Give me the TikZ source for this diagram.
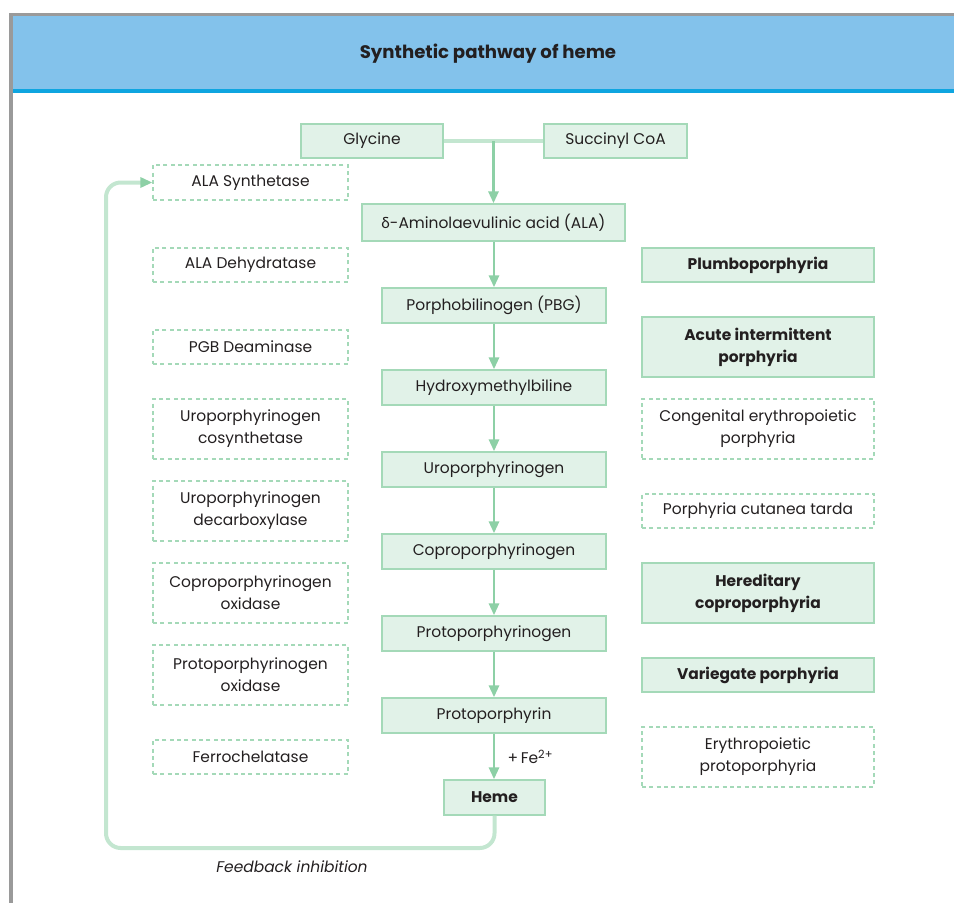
\documentclass[tikz,border=0pt]{standalone}
\usepackage{fontspec}
\setmainfont{Poppins}
\newfontfamily\grk{Lato}
\usetikzlibrary{arrows.meta,calc}
\definecolor{hdr}{HTML}{83C2EB}
\definecolor{hdrline}{HTML}{0EA5E0}
\definecolor{frame}{HTML}{9A9A9A}
\definecolor{bfill}{HTML}{E1F2E8}
\definecolor{bdraw}{HTML}{A4D9B8}
\definecolor{arrc}{HTML}{8DD0A6}
\definecolor{fbc}{HTML}{C3E6D0}
\definecolor{txt}{HTML}{231F20}
\tikzset{
  every node/.style={text=txt, font=\fontsize{11.6pt}{16.5pt}\selectfont},
  solidbox/.style={draw=bdraw, fill=bfill, line width=1pt, align=center, inner sep=2pt},
  dashbox/.style={draw=bdraw, line width=0.9pt, dash pattern=on 3pt off 2.5pt, align=center, inner sep=2pt},
  boldbox/.style={solidbox, font=\fontsize{11.6pt}{16.5pt}\selectfont\bfseries},
  arr/.style={draw=arrc, line width=2.2pt, -{Triangle[width=7.5pt,length=9pt]}},
  joinline/.style={draw=fbc, line width=3pt},
  fb/.style={draw=fbc, line width=3pt, rounded corners=11pt, -{Triangle[width=7.5pt,length=9pt,fill=arrc,color=arrc]}},
}
\begin{document}
\begin{tikzpicture}[x=0.75pt,y=-0.75pt]
\useasboundingbox (0,0) rectangle (954,903);
% frame and header
\fill[hdr] (12,15) rectangle (954,90);
\fill[hdrline] (12,89) rectangle (954,93);
\fill[frame] (9,13) rectangle (954,15.5);
\fill[frame] (9,13) rectangle (12.5,903);
\node[font=\fontsize{13.6pt}{16pt}\selectfont\bfseries] (title) at (488,54) {Synthetic pathway of heme};

% main chain
\node[solidbox, minimum width=142*0.75pt, minimum height=34*0.75pt] (gly) at (372,141) {Glycine};
\node[solidbox, minimum width=143*0.75pt, minimum height=34*0.75pt] (suc) at (615.5,141) {Succinyl CoA};
\node[solidbox, minimum width=263*0.75pt, minimum height=37*0.75pt] (ala) at (493.5,222.5) {{\grk δ}-Aminolaevulinic acid (ALA)};
\node[solidbox, minimum width=224*0.75pt, minimum height=35*0.75pt] (pbg) at (494,305.5) {Porphobilinogen (PBG)};
\node[solidbox, minimum width=224*0.75pt, minimum height=35*0.75pt] (hmb) at (494,387.5) {Hydroxymethylbiline};
\node[solidbox, minimum width=224*0.75pt, minimum height=35*0.75pt] (uro) at (494,469.5) {Uroporphyrinogen};
\node[solidbox, minimum width=224*0.75pt, minimum height=35*0.75pt] (copro) at (494,551.5) {Coproporphyrinogen};
\node[solidbox, minimum width=224*0.75pt, minimum height=35*0.75pt] (protog) at (494,633.5) {Protoporphyrinogen};
\node[solidbox, minimum width=224*0.75pt, minimum height=35*0.75pt] (proto) at (494,715.5) {Protoporphyrin};
\node[boldbox, minimum width=101*0.75pt, minimum height=35*0.75pt] (heme) at (494.5,797.5) {Heme};

\draw[joinline] (gly.east) -- (suc.west);
\coordinate (jn) at ($(gly.east)!0.5!(suc.west)$);
\draw[arr] (jn) -- (jn |- ala.north);
\draw[arr] (ala.south -| pbg.north) -- (pbg.north);
\draw[arr] (pbg) -- (hmb);
\draw[arr] (hmb) -- (uro);
\draw[arr] (uro) -- (copro);
\draw[arr] (copro) -- (protog);
\draw[arr] (protog) -- (proto);
\draw[arr] (proto.south) -- (proto.south |- heme.north);
\node[anchor=west] (fe) at (503,757) {+\,Fe{\raisebox{0.6ex}{\fontsize{8.5pt}{10pt}\selectfont 2+}}};

% enzymes
\node[dashbox, minimum width=195*0.75pt, minimum height=35*0.75pt] (alas) at (250.5,182.5) {ALA Synthetase};
\node[dashbox, minimum width=195*0.75pt, minimum height=34*0.75pt] (alad) at (250.5,265) {ALA Dehydratase};
\node[dashbox, minimum width=195*0.75pt, minimum height=34*0.75pt] (pbgd) at (250.5,347) {PGB Deaminase};
\node[dashbox, minimum width=195*0.75pt, minimum height=60*0.75pt] (ucs) at (250.5,429) {Uroporphyrinogen\\cosynthetase};
\node[dashbox, minimum width=195*0.75pt, minimum height=60*0.75pt] (ud) at (250.5,511) {Uroporphyrinogen\\decarboxylase};
\node[dashbox, minimum width=195*0.75pt, minimum height=60*0.75pt] (cpo) at (250.5,593) {Coproporphyrinogen\\oxidase};
\node[dashbox, minimum width=195*0.75pt, minimum height=60*0.75pt] (ppo) at (250.5,675) {Protoporphyrinogen\\oxidase};
\node[dashbox, minimum width=195*0.75pt, minimum height=34*0.75pt] (fc) at (250.5,757) {Ferrochelatase};

% diseases
\node[boldbox, minimum width=232*0.75pt, minimum height=34*0.75pt] (plumbo) at (758,265) {Plumboporphyria};
\node[boldbox, minimum width=232*0.75pt, minimum height=60*0.75pt] (aip) at (758,347) {Acute intermittent\\porphyria};
\node[dashbox, minimum width=232*0.75pt, minimum height=60*0.75pt] (cep) at (758,429) {Congenital erythropoietic\\porphyria};
\node[dashbox, minimum width=232*0.75pt, minimum height=34*0.75pt] (pct) at (758,511) {Porphyria cutanea tarda};
\node[boldbox, minimum width=232*0.75pt, minimum height=60*0.75pt] (hcp) at (758,593) {Hereditary\\coproporphyria};
\node[boldbox, minimum width=232*0.75pt, minimum height=34*0.75pt] (vp) at (758,675) {Variegate porphyria};
\node[dashbox, minimum width=232*0.75pt, minimum height=60*0.75pt] (epp) at (758,757) {Erythropoietic\\protoporphyria};

% feedback
\draw[fb] (heme.south) -- (heme.south |- 0,848) -- (106,848) -- (106,182.5) -- (alas.west);
\node[font=\fontsize{11.6pt}{16pt}\selectfont\itshape] (fbl) at (292,867) {Feedback inhibition};
\end{tikzpicture}
\end{document}
